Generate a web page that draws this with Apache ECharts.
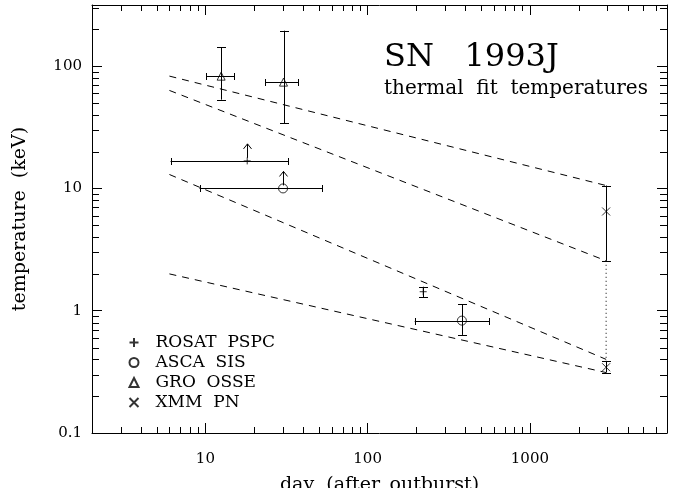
<!DOCTYPE html>
<html>
<head>
<meta charset="utf-8">
<script src="https://cdn.jsdelivr.net/npm/echarts@6/dist/echarts.min.js"></script>
<style>
  html, body { margin: 0; padding: 0; background: #fff; }
  #chart { width: 686px; height: 488px; }
</style>
</head>
<body>
<div id="chart"></div>
<script>
  // dashed power-law guides (day 6 -> day 2950)
  const guideDays = [6, 2950];
  const guideA = [82.9, 10.56];
  const guideB = [63.3, 2.56];
  const guideC = [13.0, 0.40];
  const guideD = [2.0, 0.312];
  // dotted link between the two XMM fits
  const linkDays = [2950, 2950];
  const linkTemps = [2.56, 0.388];

  // [day, kT, dayLo, dayHi, kTLo, kTHi, lowerLimit]
  const rosat = [[18.1, 16.8, 6.1, 32.3, null, null, 1], [220, 1.43, null, null, 1.29, 1.57, 0]];
  const asca = [[30.1, 10.0, 9.2, 52.5, null, null, 1], [381, 0.83, 195, 560, 0.634, 1.13, 0]];
  const gro = [[12.5, 82.8, 10.1, 15.1, 53.2, 143, 0], [30.3, 74, 23.3, 37.2, 34, 195, 0]];
  const xmm = [[2950, 6.48, null, null, 2.56, 10.56, 0], [2950, 0.345, null, null, 0.312, 0.388, 0]];

  const xTicks = [10, 100, 1000];
  const yTicks = [0.1, 1, 10, 100];
  const xRange = [2, 7000];
  const yRange = [0.1, 316.23];

  const FONT = 'DejaVu Serif';
  const INK = '#000';

  function isMajor(v, list) {
    return list.some(t => Math.abs(Math.log10(v) - Math.log10(t)) < 1e-6);
  }

  function crisp(v) { return Math.round(v) + 0.5; }

  function errRender(params, api) {
    const x = api.value(0), y = api.value(1);
    const c = api.coord([x, y]);
    const st = { stroke: INK, lineWidth: 1, fill: null };
    const kids = [];
    const seg = (x1, y1, x2, y2) => kids.push({ type: 'line', shape: { x1: x1, y1: y1, x2: x2, y2: y2 }, style: st });
    const xl = api.value(2), xh = api.value(3), yl = api.value(4), yh = api.value(5);
    if (xl > 0 && xh > 0) {
      const a = api.coord([xl, y]), b = api.coord([xh, y]);
      const yy = crisp(c[1]);
      seg(a[0], yy, b[0], yy);
      seg(crisp(a[0]), yy - 3.5, crisp(a[0]), yy + 3.5);
      seg(crisp(b[0]), yy - 3.5, crisp(b[0]), yy + 3.5);
    }
    if (yl > 0 && yh > 0) {
      const a = api.coord([x, yl]), b = api.coord([x, yh]);
      const xx = crisp(c[0]);
      seg(xx, a[1], xx, b[1]);
      seg(xx - 4.5, crisp(a[1]), xx + 4.5, crisp(a[1]));
      seg(xx - 4.5, crisp(b[1]), xx + 4.5, crisp(b[1]));
    }
    if (api.value(6)) {
      const xx = crisp(c[0]);
      const top = c[1] - 17;
      seg(xx, c[1] - 3, xx, top);
      seg(xx - 4, top + 5, xx, top);
      seg(xx + 4, top + 5, xx, top);
    }
    return { type: 'group', children: kids };
  }

  const chart = echarts.init(document.getElementById('chart'));

  const symbolStyle = { color: 'none', borderColor: INK, borderWidth: 1 };

  function pointSeries(name, data, symbol, size) {
    return {
      name: name,
      type: 'scatter',
      data: data.map(d => [d[0], d[1]]),
      symbol: symbol,
      symbolSize: size,
      symbolKeepAspect: true,
      itemStyle: symbolStyle,
      z: 5,
      silent: true
    };
  }

  function errSeries(data) {
    return {
      type: 'custom',
      renderItem: errRender,
      data: data,
      encode: { x: 0, y: 1 },
      z: 3,
      silent: true
    };
  }

  function guideSeries(days, temps, dash) {
    return {
      type: 'line',
      data: days.map((d, i) => [d, temps[i]]),
      showSymbol: false,
      symbol: 'none',
      lineStyle: { color: INK, width: 1, type: dash },
      z: 2,
      silent: true
    };
  }

  const axisBase = {
    type: 'log',
    logBase: 10,
    axisLine: { show: true, lineStyle: { color: INK, width: 1 } },
    axisTick: { show: true, inside: true, length: 10, lineStyle: { color: INK, width: 1 } },
    splitLine: { show: false }
  };

  chart.setOption({
    animation: false,
    backgroundColor: '#fff',
    title: {
      text: 'SN   1993J',
      subtext: 'thermal  fit  temperatures',
      left: 384,
      top: 42,
      padding: 0,
      itemGap: 5,
      textStyle: { fontFamily: FONT, fontSize: 32, fontWeight: 'normal', color: INK },
      subtextStyle: { fontFamily: FONT, fontSize: 20, color: INK }
    },
    legend: {
      orient: 'vertical',
      left: 127,
      top: 334,
      itemWidth: 9,
      itemHeight: 9,
      itemGap: 3,
      padding: 0,
      selectedMode: false,
      textStyle: { fontFamily: FONT, fontSize: 17, color: INK, padding: [0, 0, 0, 12] },
      data: ['ROSAT  PSPC', 'ASCA  SIS', 'GRO  OSSE', 'XMM  PN']
    },
    grid: { left: 92, right: 19, top: 5, bottom: 55, outerBoundsMode: 'none' },
    xAxis: [
      Object.assign({}, axisBase, {
        min: xRange[0], max: xRange[1],
        name: 'day  (after_outburst)',
        nameLocation: 'middle',
        nameGap: 43,
        nameTextStyle: { fontFamily: FONT, fontSize: 19, color: INK },
        axisLabel: {
          margin: 19, fontFamily: FONT, fontSize: 15, color: INK,
          showMinLabel: false, showMaxLabel: false,
          formatter: v => isMajor(v, xTicks) ? String(Math.round(v)) : ''
        }
      }),
      Object.assign({}, axisBase, {
        min: xRange[0], max: xRange[1], position: 'top',
        axisLabel: { show: false }
      })
    ],
    yAxis: [
      Object.assign({}, axisBase, {
        min: yRange[0], max: yRange[1],
        name: 'temperature  (keV)',
        nameLocation: 'middle',
        nameGap: 62,
        nameTextStyle: { fontFamily: FONT, fontSize: 19, color: INK },
        axisLabel: {
          margin: 10, fontFamily: FONT, fontSize: 15, color: INK,
          formatter: v => {
            if (!isMajor(v, yTicks)) return '';
            const e = Math.round(Math.log10(v));
            return e < 0 ? Math.pow(10, e).toFixed(-e) : String(Math.pow(10, e));
          }
        }
      }),
      Object.assign({}, axisBase, {
        min: yRange[0], max: yRange[1], position: 'right',
        axisLabel: { show: false }
      })
    ],
    series: [
      guideSeries(guideDays, guideA, [7, 6]),
      guideSeries(guideDays, guideB, [7, 6]),
      guideSeries(guideDays, guideC, [7, 6]),
      guideSeries(guideDays, guideD, [7, 6]),
      guideSeries(linkDays, linkTemps, [1, 3]),
      errSeries(rosat),
      errSeries(asca),
      errSeries(gro),
      errSeries(xmm),
      pointSeries('ROSAT  PSPC', rosat, 'path://M0,5L10,5M5,0L5,10', 7),
      pointSeries('ASCA  SIS', asca, 'circle', 9),
      pointSeries('GRO  OSSE', gro, 'triangle', 8),
      pointSeries('XMM  PN', xmm, 'path://M0,0L10,10M10,0L0,10', 8)
    ]
  });

  // minor log ticks on all four sides, placed through the axes' own scales
  const minorTicks = [];
  const xL = chart.convertToPixel({ xAxisIndex: 0 }, xRange[0]);
  const xR = chart.convertToPixel({ xAxisIndex: 0 }, xRange[1]);
  const yB = chart.convertToPixel({ yAxisIndex: 0 }, yRange[0]);
  const yT = chart.convertToPixel({ yAxisIndex: 0 }, yRange[1]);
  const tickStyle = { stroke: INK, lineWidth: 1 };
  for (let e = -1; e <= 3; e++) {
    for (let m = 2; m <= 9; m++) {
      const v = m * Math.pow(10, e);
      if (v > xRange[0] && v < xRange[1]) {
        const px = crisp(chart.convertToPixel({ xAxisIndex: 0 }, v));
        if (px > xL + 2 && px < xR - 2) {
          minorTicks.push({ type: 'line', silent: true, shape: { x1: px, y1: yB, x2: px, y2: yB - 6 }, style: tickStyle });
          minorTicks.push({ type: 'line', silent: true, shape: { x1: px, y1: yT, x2: px, y2: yT + 6 }, style: tickStyle });
        }
      }
      if (v > yRange[0] && v < yRange[1]) {
        const py = crisp(chart.convertToPixel({ yAxisIndex: 0 }, v));
        if (py > yT + 2 && py < yB - 2) {
          minorTicks.push({ type: 'line', silent: true, shape: { x1: xL, y1: py, x2: xL + 7, y2: py }, style: tickStyle });
          minorTicks.push({ type: 'line', silent: true, shape: { x1: xR, y1: py, x2: xR - 7, y2: py }, style: tickStyle });
        }
      }
    }
  }
  chart.setOption({ graphic: minorTicks });
</script>
</body>
</html>
